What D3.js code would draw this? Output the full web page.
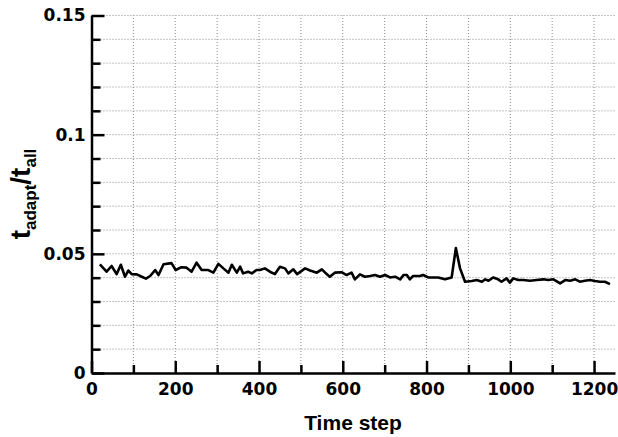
<!DOCTYPE html>
<html lang="en">
  <script src="https://d3js.org/d3.v7.min.js"></script>
  <style>
    body {
      margin: 0;
      background: #fff;
    }
    .tick text {
      font-family: "DejaVu Sans", sans-serif;
      font-weight: bold;
      font-size: 17px;
      fill: #000;
    }
    .grid line {
      stroke: #8a8a8a;
      stroke-width: 1;
      stroke-dasharray: 1, 2;
    }
    .axis path,
    .axis line {
      stroke: #000;
      stroke-width: 2.5;
    }
    .title {
      font-family: "Liberation Sans", Arial, sans-serif;
      font-weight: bold;
      fill: #000;
    }
  </style>
  <body>
    <svg width="618" height="437"></svg>
    <script>
      // time step of each sample
      const steps = [
        20, 36, 48, 60, 70, 80, 88, 96, 108, 120, 130, 140, 152, 160, 172,
        191, 201, 215, 227, 239, 251, 263, 279, 291, 303, 315, 327, 335, 347,
        355, 362, 374, 383, 394, 402, 414, 426, 438, 450, 462, 470, 482, 491,
        510, 522, 538, 550, 558, 569, 581, 597, 609, 621, 629, 641, 653, 665,
        677, 689, 701, 713, 725, 737, 745, 753, 760, 768, 784, 792, 804, 828,
        844, 860, 870, 880, 892, 908, 920, 932, 940, 948, 959, 971, 979, 991,
        999, 1007, 1019, 1031, 1047, 1063, 1079, 1091, 1103, 1119, 1131, 1143,
        1155, 1166, 1178, 1190, 1202, 1214, 1226, 1238
      ];
      // t_adapt / t_all ratio at each step
      const ratio = [
        0.0456, 0.0425, 0.0449, 0.0415, 0.0454, 0.0404, 0.043, 0.0415, 0.0414,
        0.0404, 0.0396, 0.0407, 0.0432, 0.0411, 0.0456, 0.0461, 0.0432, 0.0444,
        0.0442, 0.0425, 0.0463, 0.0432, 0.0432, 0.0421, 0.0458, 0.0439, 0.0421,
        0.0454, 0.0421, 0.0446, 0.0418, 0.0425, 0.0418, 0.0432, 0.0432, 0.0439,
        0.0425, 0.0415, 0.0446, 0.0439, 0.0418, 0.0435, 0.0415, 0.0439, 0.043,
        0.0421, 0.0435, 0.0421, 0.0404, 0.0421, 0.0423, 0.0411, 0.0421, 0.0393,
        0.0414, 0.0404, 0.0407, 0.0411, 0.0404, 0.0411, 0.0401, 0.0404, 0.0393,
        0.0411, 0.0411, 0.0393, 0.0407, 0.0407, 0.0411, 0.0401, 0.0401, 0.0393,
        0.0401, 0.0524, 0.0439, 0.0383, 0.0386, 0.039, 0.0383, 0.0393, 0.0387,
        0.0401, 0.0393, 0.0383, 0.0397, 0.0379, 0.0397, 0.039, 0.039, 0.0387,
        0.039, 0.0393, 0.039, 0.0393, 0.0376, 0.039, 0.0387, 0.0393, 0.0383,
        0.0387, 0.039, 0.0386, 0.0383, 0.0383, 0.0373
      ];
      const xMajor = [0, 200, 400, 600, 800, 1000, 1200];
      const xMinor = [100, 300, 500, 700, 900, 1100];
      const yMajor = [0, 0.05, 0.1, 0.15];
      const yMinor = [0.01, 0.02, 0.03, 0.04, 0.06, 0.07, 0.08, 0.09, 0.11, 0.12, 0.13, 0.14];

      const svg = d3.select("svg");
      const x = d3.scaleLinear().domain([0, 1250]).range([91.5, 615]);
      const y = d3.scaleLinear().domain([0, 0.15]).range([373, 15.5]);

      // dotted grid
      svg
        .append("g")
        .attr("class", "grid")
        .selectAll("line")
        .data(xMajor.concat(xMinor).filter((d) => d > 0))
        .enter()
        .append("line")
        .attr("x1", (d) => x(d))
        .attr("x2", (d) => x(d))
        .attr("y1", y(0))
        .attr("y2", y(0.15));

      svg
        .append("g")
        .attr("class", "grid")
        .selectAll("line")
        .data(yMajor.concat(yMinor).filter((d) => d > 0))
        .enter()
        .append("line")
        .attr("x1", x(0))
        .attr("x2", x(1250))
        .attr("y1", (d) => y(d))
        .attr("y2", (d) => y(d));

      // minor ticks (no labels)
      svg
        .append("g")
        .attr("class", "axis")
        .attr("transform", "translate(0,373)")
        .call(d3.axisBottom(x).tickValues(xMinor).tickSizeInner(-8).tickSizeOuter(0).tickFormat(""))
        .select(".domain")
        .remove();
      svg
        .append("g")
        .attr("class", "axis")
        .attr("transform", "translate(91.5,0)")
        .call(d3.axisLeft(y).tickValues(yMinor).tickSizeInner(-9).tickSizeOuter(0).tickFormat(""))
        .select(".domain")
        .remove();

      // major axes
      svg
        .append("g")
        .attr("class", "axis")
        .attr("transform", "translate(0,373)")
        .call(d3.axisBottom(x).tickValues(xMajor).tickSizeInner(-12).tickSizeOuter(0).tickPadding(10).tickFormat(d3.format("d")));

      svg
        .append("g")
        .attr("class", "axis")
        .attr("transform", "translate(91.5,0)")
        .call(d3.axisLeft(y).tickValues(yMajor).tickSizeInner(-13).tickSizeOuter(0).tickPadding(6).tickFormat((d) => (d === 0 ? "0" : String(d))));

      // data line
      const pts = steps.map((s, i) => [s, ratio[i]]);
      svg
        .append("path")
        .datum(pts)
        .attr("fill", "none")
        .attr("stroke", "#000")
        .attr("stroke-width", 2.6)
        .attr("stroke-linejoin", "round")
        .attr("d", d3.line().x((d) => x(d[0])).y((d) => y(d[1])));

      // axis titles
      svg
        .append("text")
        .attr("class", "title")
        .attr("x", 353)
        .attr("y", 430)
        .attr("text-anchor", "middle")
        .attr("font-size", 21)
        .text("Time step");

      const yt = svg
        .append("text")
        .attr("class", "title")
        .attr("text-anchor", "middle")
        .attr("transform", "translate(30,194) rotate(-90)")
        .attr("font-size", 28);
      yt.append("tspan").text("t");
      yt.append("tspan").attr("font-size", 17).attr("dy", 6).text("adapt");
      yt.append("tspan").attr("dy", -6).text("/t");
      yt.append("tspan").attr("font-size", 17).attr("dy", 6).text("all");
    </script>
  </body>
</html>
